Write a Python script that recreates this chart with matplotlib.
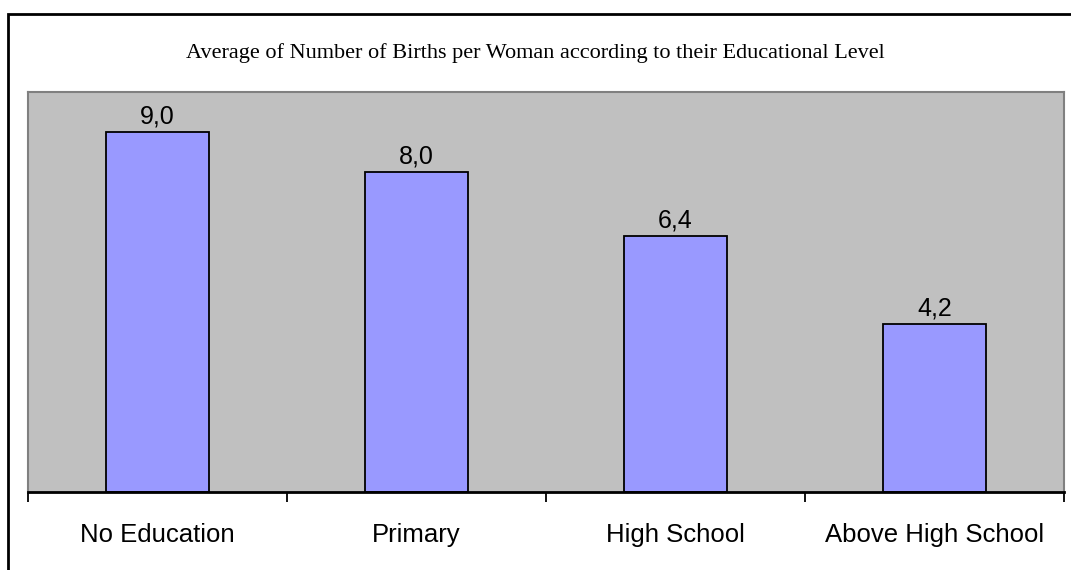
import matplotlib
matplotlib.use("Agg")
import matplotlib.pyplot as plt
from matplotlib.patches import Rectangle

# average births per woman by education level
levels = ["No Education", "Primary", "High School", "Above High School"]
births = [9.0, 8.0, 6.4, 4.2]

fig = plt.figure(figsize=(10.71, 5.70), dpi=100)

# chart frame (only top/left edges fall inside the canvas)
fig.patches.append(Rectangle((8 / 1071, -0.1), 1.2, (570 - 14) / 570 + 0.1,
                             transform=fig.transFigure, fill=False,
                             edgecolor="black", linewidth=2))

ax = fig.add_axes([28 / 1071, 78 / 570, 1036 / 1071, 400 / 570])
ax.set_facecolor("#C0C0C0")

x = list(range(len(levels)))
bars = ax.bar(x, births, width=0.4, color="#9999FF", edgecolor="black", linewidth=1.3)

for xi, v in zip(x, births):
    ax.annotate(f"{v:.1f}".replace(".", ","), (xi, v), xytext=(0, 2.5),
                textcoords="offset points", ha="center", va="bottom",
                fontsize=18, family="Liberation Sans")

ax.set_xlim(-0.5, len(levels) - 0.5)
ax.set_ylim(0, 10)
ax.set_yticks([])

# ticks sit between categories, labels at category centres
ax.set_xticks([i - 0.5 for i in range(len(levels) + 1)])
ax.set_xticklabels([])
ax.set_xticks(x, minor=True)
ax.set_xticklabels(levels, minor=True, fontsize=18.5, family="Liberation Sans")
ax.tick_params(axis="x", which="major", direction="out", length=7, width=1.3)
ax.tick_params(axis="x", which="minor", length=0, pad=22)

for side in ["top", "left", "right"]:
    ax.spines[side].set_color("#808080")
    ax.spines[side].set_linewidth(1.5)
ax.spines["bottom"].set_color("black")
ax.spines["bottom"].set_linewidth(2)

fig.text(0.5, 1 - 53 / 570, "Average of Number of Births per Woman according to their Educational Level",
         ha="center", va="center", fontsize=16, family="Liberation Serif")

fig.savefig("out.png", dpi=100)
